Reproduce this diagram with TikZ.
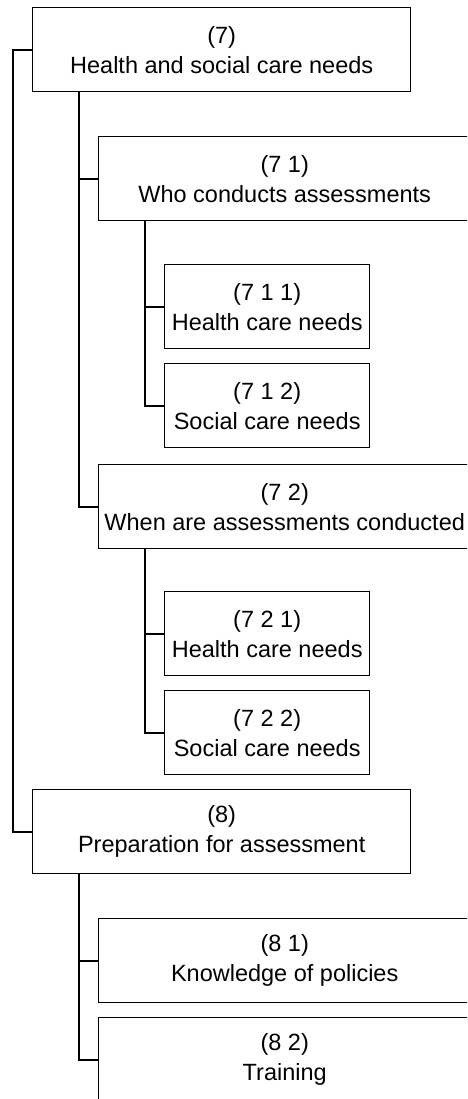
\documentclass[tikz,border=0pt]{standalone}
\usepackage{fontspec}
\setmainfont{Liberation Sans}
\usepackage{tikz}

\begin{document}
\begin{tikzpicture}[x=0.5pt,y=-0.5pt,
  box/.style={shape=rectangle,draw,line width=0.7pt,anchor=north west,inner sep=0pt,minimum height=42pt,align=center,font=\fontsize{11.75}{15}\selectfont},
  topbox/.style={box,minimum width=189pt},
  midbox/.style={box,minimum width=186pt},
  leafbox/.style={box,minimum width=102.5pt},
  link/.style={line width=1pt}]
\useasboundingbox (0,0) rectangle (467,1099);
\clip (0,0) rectangle (467,1099);
\draw (32,7) node (n7) [topbox] {(7)\\Health and social care needs};
\draw (98,136) node (n71) [midbox] {(7 1)\\Who conducts assessments};
\draw (164,264) node (n711) [leafbox] {(7 1 1)\\Health care needs};
\draw (164,363) node (n712) [leafbox] {(7 1 2)\\Social care needs};
\draw (98,464) node (n72) [midbox] {(7 2)\\When are assessments conducted};
\draw (164,591) node (n721) [leafbox] {(7 2 1)\\Health care needs};
\draw (164,690) node (n722) [leafbox] {(7 2 2)\\Social care needs};
\draw (32,789) node (n8) [topbox] {(8)\\Preparation for assessment};
\draw (98,918) node (n81) [midbox] {(8 1)\\Knowledge of policies};
\draw (98,1017) node (n82) [midbox] {(8 2)\\Training};
\draw[link] (n7.west) -- ++(-19,0) |- (n8.west);
\draw[link] (n7.south west) ++(47,0) |- (n72.west);
\draw[link] (n71.west) -- ++(-19,0);
\draw[link] (n71.south west) ++(47,0) |- (n712.west);
\draw[link] (n711.west) -- ++(-19,0);
\draw[link] (n72.south west) ++(47,0) |- (n722.west);
\draw[link] (n721.west) -- ++(-19,0);
\draw[link] (n8.south west) ++(47,0) |- (n82.west);
\draw[link] (n81.west) -- ++(-19,0);
\end{tikzpicture}
\end{document}
